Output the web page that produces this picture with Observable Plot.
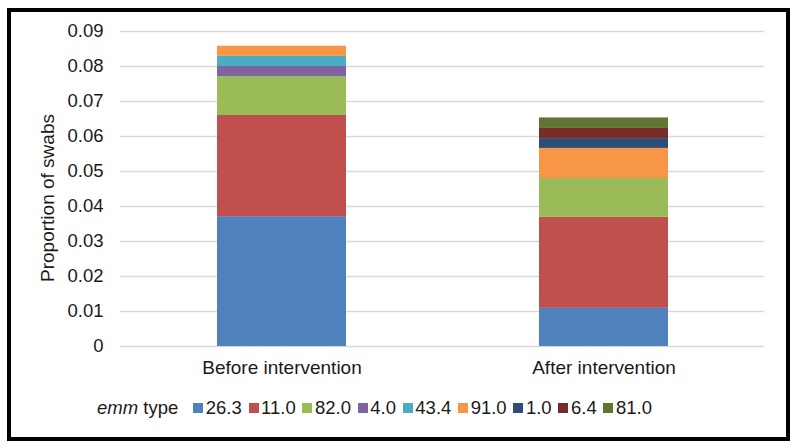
<!DOCTYPE html>
<html>
<head>
<meta charset="utf-8">
<script src="https://cdn.jsdelivr.net/npm/d3@7"></script>
<script src="https://cdn.jsdelivr.net/npm/@observablehq/plot@0.6"></script>
<style>
  html, body { margin: 0; padding: 0; background: #fff; }
  #wrap { position: relative; width: 797px; height: 448px; overflow: hidden; font-family: "Liberation Sans", Arial, sans-serif; }
  #frame { position: absolute; left: 7px; top: 8px; width: 783px; height: 433px; box-sizing: border-box; border: 4px solid #000; pointer-events: none; }
  #chart { position: absolute; left: 0; top: 0; }
  #legend { position: absolute; left: 97px; top: 397px; display: flex; align-items: center; font-size: 18.5px; color: #1a1a1a; white-space: nowrap; }
  #legend .ttl { margin-right: 15px; }
  #legend .item { display: flex; align-items: center; margin-right: 6.8px; }
  #legend .sw { width: 10px; height: 10px; margin-right: 2.5px; }
</style>
</head>
<body>
<div id="wrap">
  <div id="chart"></div>
  <div id="legend"></div>
  <div id="frame"></div>
</div>
<script>
const periods = ["Before intervention", "After intervention"];
const types = ["26.3", "11.0", "82.0", "4.0", "43.4", "91.0", "1.0", "6.4", "81.0"];
const colors = ["#4F81BD", "#C0504D", "#9BBB59", "#8064A2", "#4BACC6", "#F79646", "#2C4D75", "#772C2A", "#5F7530"];
const beforeValues = [0.0371, 0.0289, 0.0111, 0.0029, 0.0029, 0.0029, 0, 0, 0];
const afterValues  = [0.0109, 0.0260, 0.0111, 0, 0, 0.0086, 0.0028, 0.0029, 0.0030];
const yTicks = [0, 0.01, 0.02, 0.03, 0.04, 0.05, 0.06, 0.07, 0.08, 0.09];

const rows = [];
types.forEach((t, i) => {
  rows.push({period: periods[0], type: t, value: beforeValues[i]});
  rows.push({period: periods[1], type: t, value: afterValues[i]});
});

const fmt = d => d === 0 ? "0" : d.toFixed(2);

const chart = Plot.plot({
  width: 797,
  height: 448,
  marginLeft: 120,
  marginRight: 33,
  marginTop: 31,
  marginBottom: 102,
  style: {fontFamily: "'Liberation Sans', Arial, sans-serif", fontSize: "18.5px", color: "#1a1a1a", background: "transparent"},
  x: {domain: periods, paddingInner: 0.6, paddingOuter: 0.3, label: null},
  y: {domain: [0, 0.09], label: null},
  color: {domain: types, range: colors},
  marks: [
    Plot.ruleY(yTicks, {stroke: "#D9D9D9", strokeWidth: 1.5}),
    Plot.barY(rows, Plot.stackY({order: types}, {x: "period", y: "value", fill: "type", z: "type"})),
    Plot.axisY({ticks: yTicks, tickSize: 0, tickPadding: 17, tickFormat: fmt, label: null, fontSize: 18.5}),
    Plot.axisX({tickSize: 0, tickPadding: 14, label: null, fontSize: 19}),
    Plot.text(["Proportion of swabs"], {frameAnchor: "left", textAnchor: "middle", dx: -73, dy: 9, rotate: -90, fontSize: 19, fill: "#1a1a1a"})
  ]
});
document.getElementById("chart").appendChild(chart);

const legend = document.getElementById("legend");
const ttl = document.createElement("span");
ttl.className = "ttl";
ttl.innerHTML = "<i>emm</i> type";
legend.appendChild(ttl);
types.forEach((t, i) => {
  const it = document.createElement("span");
  it.className = "item";
  const sw = document.createElement("span");
  sw.className = "sw";
  sw.style.background = colors[i];
  const tx = document.createElement("span");
  tx.textContent = t;
  it.appendChild(sw);
  it.appendChild(tx);
  legend.appendChild(it);
});
</script>
</body>
</html>
